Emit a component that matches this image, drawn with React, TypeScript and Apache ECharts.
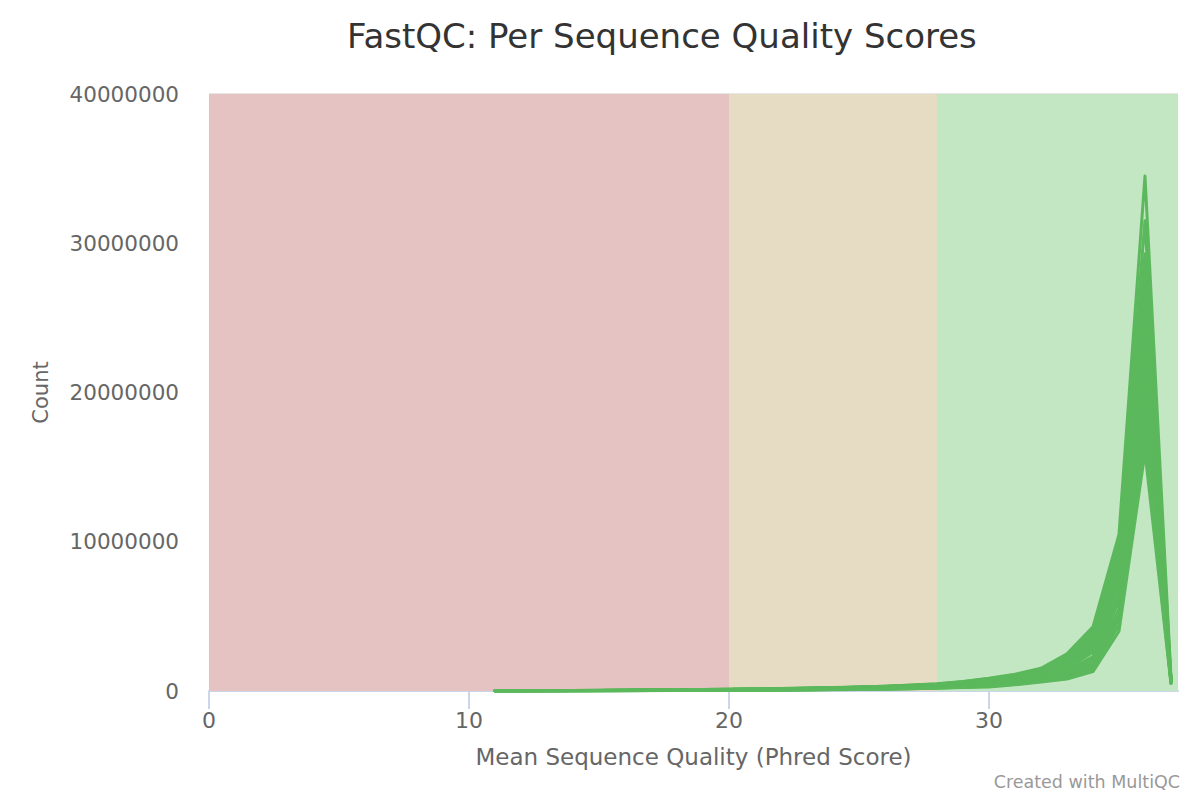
import React, { useEffect, useRef } from "react";
import * as echarts from "echarts";

const qualityScores = [11, 12, 13, 14, 15, 16, 17, 18, 19, 20, 21, 22, 23, 24, 25, 26, 27, 28, 29, 30, 31, 32, 33, 34, 35, 36, 37];

const sample01 = [20000, 24000, 29000, 36000, 44000, 54000, 68000, 84000, 100000, 120000, 142000, 168000, 198000, 234000, 276000, 326000, 395000, 490000, 640000, 860000, 1120000, 1520000, 2500000, 4300000, 10500000, 34500000, 900000];
const sample02 = [19000, 23000, 28000, 35000, 43000, 52000, 66000, 81000, 97000, 116000, 138000, 163000, 192000, 226000, 267000, 316000, 382000, 472000, 620000, 830000, 1080000, 1470000, 2400000, 4100000, 10000000, 31500000, 780000];
const sample03 = [18000, 22000, 27000, 33000, 41000, 50000, 63000, 78000, 93000, 112000, 133000, 157000, 185000, 218000, 258000, 305000, 368000, 455000, 600000, 800000, 1030000, 1420000, 2300000, 3900000, 9500000, 29300000, 620000];
const sample04 = [17000, 21000, 26000, 32000, 40000, 48000, 61000, 75000, 90000, 108000, 129000, 152000, 180000, 212000, 250000, 296000, 356000, 440000, 580000, 775000, 1000000, 1370000, 2200000, 3750000, 9200000, 28000000, 680000];
const sample05 = [16000, 20000, 25000, 31000, 38000, 47000, 59000, 73000, 87000, 105000, 125000, 148000, 174000, 205000, 243000, 288000, 345000, 425000, 560000, 750000, 970000, 1320000, 2100000, 3600000, 9000000, 27000000, 760000];
const sample06 = [15500, 19500, 24000, 30000, 37000, 45500, 57000, 70500, 84000, 101000, 121000, 143000, 168000, 198000, 235000, 279000, 333000, 411000, 540000, 725000, 935000, 1270000, 2000000, 3450000, 8800000, 26200000, 580000];
const sample07 = [15000, 19000, 23000, 29000, 36000, 44000, 55000, 68000, 81000, 98000, 117000, 139000, 163000, 192000, 228000, 270000, 322000, 398000, 525000, 700000, 900000, 1220000, 1900000, 3300000, 8500000, 25500000, 820000];
const sample08 = [14500, 18000, 22000, 28000, 34500, 42500, 53000, 65500, 78000, 94500, 113000, 134000, 157500, 185500, 220000, 260500, 311000, 384000, 507000, 675000, 865000, 1170000, 1820000, 3150000, 8200000, 24700000, 740000];
const sample09 = [14000, 17000, 21000, 27000, 33000, 41000, 51000, 63000, 75000, 91000, 109000, 129000, 152000, 179000, 212000, 251000, 300000, 370000, 490000, 650000, 830000, 1120000, 1750000, 3000000, 8000000, 24000000, 520000];
const sample10 = [13000, 16000, 20000, 25000, 31000, 38000, 47000, 58000, 70000, 85000, 101000, 120000, 141000, 166000, 197000, 233000, 280000, 345000, 455000, 600000, 760000, 1030000, 1600000, 2800000, 7500000, 23000000, 700000];
const sample11 = [12500, 15500, 19000, 24000, 29500, 36500, 45000, 55500, 67000, 81500, 97000, 115000, 135500, 159500, 189000, 223500, 269000, 331500, 437000, 575000, 730000, 995000, 1550000, 2700000, 7200000, 22500000, 610000];
const sample12 = [12000, 15000, 18000, 23000, 28000, 35000, 43000, 53000, 64000, 78000, 93000, 110000, 130000, 153000, 181000, 214000, 258000, 318000, 420000, 550000, 700000, 960000, 1500000, 2600000, 7000000, 22000000, 650000];
const sample13 = [11000, 13000, 16000, 21000, 26000, 32000, 39000, 48000, 58000, 71000, 85000, 101000, 119000, 140000, 166000, 196000, 236000, 292000, 385000, 500000, 650000, 900000, 1350000, 2300000, 6500000, 21000000, 560000];
const sample14 = [10500, 12500, 15500, 20000, 24500, 30500, 37500, 46000, 55500, 68000, 81500, 96500, 113500, 134000, 158500, 187500, 225500, 279000, 367000, 475000, 625000, 860000, 1300000, 2200000, 6200000, 20500000, 720000];
const sample15 = [10000, 12000, 15000, 19000, 23000, 29000, 36000, 44000, 53000, 65000, 78000, 92000, 108000, 128000, 151000, 179000, 215000, 266000, 350000, 450000, 600000, 820000, 1250000, 2100000, 6000000, 20000000, 850000];
const sample16 = [9000, 11000, 13000, 17000, 21000, 26000, 32000, 40000, 48000, 59000, 70000, 83000, 98000, 116000, 137000, 162000, 195000, 240000, 315000, 400000, 550000, 750000, 1100000, 1900000, 5500000, 19000000, 600000];
const sample17 = [8500, 10500, 12500, 16000, 19500, 24500, 30000, 37500, 45000, 55500, 66000, 78000, 92000, 109000, 128500, 152000, 183000, 225000, 295000, 375000, 525000, 715000, 1020000, 1750000, 5100000, 18200000, 640000];
const sample18 = [8000, 10000, 12000, 15000, 18000, 23000, 28000, 35000, 42000, 52000, 62000, 73000, 86000, 102000, 120000, 142000, 171000, 210000, 275000, 350000, 500000, 680000, 950000, 1600000, 4800000, 17500000, 700000];
const sample19 = [7500, 9000, 11000, 14000, 17000, 21500, 26000, 32500, 39000, 48000, 57500, 67500, 79500, 94500, 111500, 132000, 159000, 195000, 252000, 310000, 460000, 640000, 870000, 1450000, 4400000, 16800000, 560000];
const sample20 = [7000, 8500, 10000, 13000, 16000, 20000, 24000, 30000, 36000, 44000, 53000, 62000, 73000, 87000, 103000, 122000, 147000, 180000, 230000, 270000, 420000, 600000, 800000, 1300000, 4000000, 16000000, 500000];

const samples = [
  sample01, sample02, sample03, sample04, sample05, sample06, sample07, sample08, sample09, sample10,
  sample11, sample12, sample13, sample14, sample15, sample16, sample17, sample18, sample19, sample20,
];

const yTicks = [0, 10000000, 20000000, 30000000, 40000000];
const xTicks = [0, 10, 20, 30];
const bandEdges = [0, 20, 28, 37.27];
const bandColors = ["#e6c3c3", "#e6dcc3", "#c3e6c3"];

const FONT = "'DejaVu Sans', sans-serif";

export default function App() {
  const ref = useRef<HTMLDivElement>(null);

  useEffect(() => {
    document.body.style.margin = "0";
    if (!ref.current) return;
    const chart = echarts.init(ref.current, undefined, { renderer: "svg" });

    const series: any[] = samples.map((s, i) => ({
      type: "line",
      name: "sample" + (i + 1),
      data: qualityScores.map((q, j) => [q, s[j]]),
      showSymbol: false,
      symbol: "none",
      lineStyle: { color: "#5cb85c", width: 3, join: "round", cap: "round" },
      itemStyle: { color: "#5cb85c" },
      z: 3,
    }));

    series.push({
      type: "line",
      data: [],
      silent: true,
      z: 1,
      markArea: {
        silent: true,
        data: bandColors.map((c, i) => [
          { xAxis: bandEdges[i], itemStyle: { color: c, opacity: 1 } },
          { xAxis: bandEdges[i + 1] },
        ]),
      },
    });

    chart.setOption({
      animation: false,
      textStyle: { fontFamily: FONT },
      title: {
        text: "FastQC: Per Sequence Quality Scores",
        left: 342,
        top: 14,
        textStyle: { fontFamily: FONT, fontSize: 34, fontWeight: "normal", color: "#333333" },
      },
      graphic: [
        {
          type: "text",
          right: 20,
          top: 773,
          style: { text: "Created with MultiQC", fontFamily: FONT, fontSize: 17.5, fill: "#999999" },
        },
      ],
      grid: { left: 209, right: 22, top: 94, bottom: 109, containLabel: false },
      xAxis: {
        type: "value",
        min: 0,
        max: bandEdges[3],
        interval: 10,
        name: "Mean Sequence Quality (Phred Score)",
        nameLocation: "middle",
        nameGap: 54,
        nameTextStyle: { fontFamily: FONT, fontSize: 23, color: "#666666" },
        axisLine: { show: true, lineStyle: { color: "#ccd6eb", width: 2 } },
        axisTick: { show: true, length: 18, lineStyle: { color: "#ccd6eb", width: 2 } },
        axisLabel: {
          fontFamily: FONT,
          fontSize: 22,
          color: "#666666",
          margin: 18,
          showMaxLabel: false,
          formatter: (v: number) => (xTicks.includes(v) ? String(v) : ""),
        },
        splitLine: { show: false },
      },
      yAxis: {
        type: "value",
        min: yTicks[0],
        max: yTicks[yTicks.length - 1],
        interval: 10000000,
        name: "Count",
        nameLocation: "middle",
        nameGap: 158,
        nameTextStyle: { fontFamily: FONT, fontSize: 21, color: "#666666" },
        axisLine: { show: false },
        axisTick: { show: false },
        axisLabel: {
          fontFamily: FONT,
          fontSize: 21.5,
          color: "#666666",
          margin: 30,
          formatter: (v: number) => String(v),
        },
        splitLine: { show: true, lineStyle: { color: "#e6e6e6", width: 2 } },
      },
      series,
    });

    return () => chart.dispose();
  }, []);

  return <div ref={ref} style={{ width: 1200, height: 800 }} />;
}
